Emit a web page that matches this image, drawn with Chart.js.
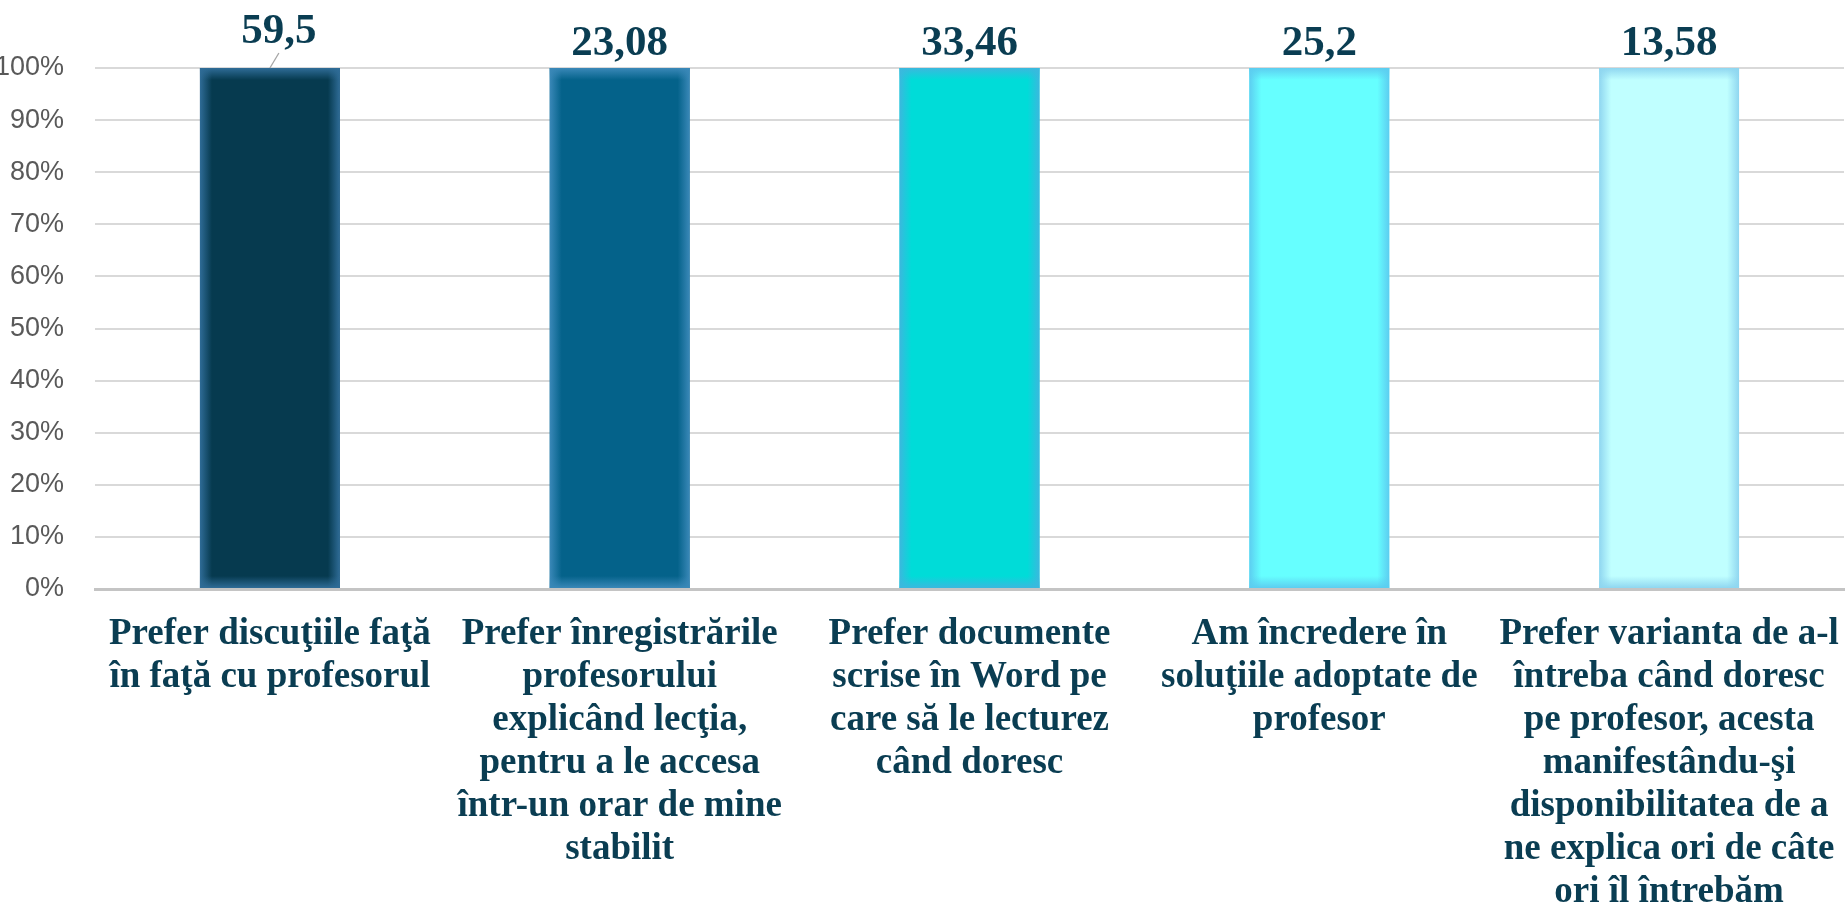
<!DOCTYPE html>
<html>
<head>
<meta charset="utf-8">
<style>
  html, body { margin: 0; padding: 0; background: #ffffff; }
  #wrap { width: 1847px; height: 905px; position: relative; }
</style>
<script src="https://cdn.jsdelivr.net/npm/chart.js@4.4.1/dist/chart.umd.min.js"></script>
</head>
<body>
<div id="wrap"><canvas id="c" width="1847" height="905"></canvas></div>
<script>
// ---- data ----
const categories = [
  ["Prefer discuţiile faţă", "în faţă cu profesorul"],
  ["Prefer înregistrările", "profesorului", "explicând lecţia,", "pentru a le accesa", "într-un orar de mine", "stabilit"],
  ["Prefer documente", "scrise în Word pe", "care să le lecturez", "când doresc"],
  ["Am încredere în", "soluţiile adoptate de", "profesor"],
  ["Prefer varianta de a-l", "întreba când doresc", "pe profesor, acesta", "manifestându-şi", "disponibilitatea de a", "ne explica ori de câte", "ori îl întrebăm"]
];
const values = [59.5, 23.08, 33.46, 25.2, 13.58];
const valueLabels = ["59,5", "23,08", "33,46", "25,2", "13,58"];
const yTicks = [0, 10, 20, 30, 40, 50, 60, 70, 80, 90, 100];

// 100% stacked: each category holds a single series, so its share is value / category total
const categoryTotals = values.map(v => v);
const shares = values.map((v, i) => v / categoryTotals[i] * 100);

// ---- styles ----
const barFill = ["#063a4f", "#04628a", "#00dcd8", "#66ffff", "#c0ffff"];
const barEdge = ["#2f6c97", "#3a88b8", "#3bb8de", "#5ccdf0", "#8fd6f0"];
const textDark = "#0a3d52";
const labelNudge = [{dx: 9, dy: -12, leader: true}, {dx: 0, dy: 0}, {dx: 0, dy: 0}, {dx: 0, dy: 0}, {dx: 0, dy: 0}];

const glowPlugin = {
  id: 'glow',
  afterDatasetsDraw(chart) {
    const ctx = chart.ctx;
    const meta = chart.getDatasetMeta(0);
    meta.data.forEach((bar, i) => {
      const p = bar.getProps(['x', 'y', 'base', 'width'], true);
      const l = p.x - p.width / 2, r = p.x + p.width / 2;
      const t = Math.min(p.y, p.base), b = Math.max(p.y, p.base);
      const g = 12;
      const edge = barEdge[i];
      ctx.save();
      const mk = (x0, y0, x1, y1) => {
        const gr = ctx.createLinearGradient(x0, y0, x1, y1);
        gr.addColorStop(0, edge);
        gr.addColorStop(1, edge + '00');
        return gr;
      };
      ctx.fillStyle = mk(l, 0, l + g, 0); ctx.fillRect(l, t, g, b - t);
      ctx.fillStyle = mk(r, 0, r - g, 0); ctx.fillRect(r - g, t, g, b - t);
      ctx.fillStyle = mk(0, t, 0, t + g); ctx.fillRect(l, t, r - l, g);
      ctx.fillStyle = mk(0, b, 0, b - g); ctx.fillRect(l, b - g, r - l, g);
      ctx.restore();
    });
  }
};

const valueLabelPlugin = {
  id: 'valueLabels',
  afterDraw(chart) {
    const ctx = chart.ctx;
    const meta = chart.getDatasetMeta(0);
    ctx.save();
    ctx.font = 'bold 43px "Liberation Serif", "Times New Roman", serif';
    ctx.fillStyle = textDark;
    ctx.textAlign = 'center';
    ctx.textBaseline = 'alphabetic';
    meta.data.forEach((bar, i) => {
      const n = labelNudge[i];
      const x = bar.x + n.dx;
      const y = bar.y - 13 + n.dy;
      ctx.fillText(valueLabels[i], x, y);
      if (n.leader) {
        ctx.strokeStyle = '#a6a6a6';
        ctx.lineWidth = 1.3;
        ctx.beginPath();
        ctx.moveTo(bar.x + 9, bar.y - 15);
        ctx.lineTo(bar.x, bar.y);
        ctx.stroke();
      }
    });
    ctx.restore();
  }
};

new Chart(document.getElementById('c'), {
  type: 'bar',
  data: {
    labels: categories,
    datasets: [{
      data: shares,
      backgroundColor: barFill,
      borderWidth: 0,
      categoryPercentage: 0.8,
      barPercentage: 0.5
    }]
  },
  options: {
    responsive: false,
    animation: false,
    devicePixelRatio: 1,
    layout: { padding: { top: 68, right: 3, left: 0, bottom: 0 } },
    plugins: { legend: { display: false }, tooltip: { enabled: false } },
    scales: {
      x: {
        stacked: true,
        grid: { display: false, drawTicks: false },
        border: { display: true, color: '#c4c4c4', width: 3 },
        ticks: {
          color: textDark,
          font: { family: '"Liberation Serif", "Times New Roman", serif', size: 37, weight: 'bold', lineHeight: 1.16 },
          padding: 24,
          maxRotation: 0,
          autoSkip: false
        },
        afterFit(scale) { scale.height = 316; scale.paddingLeft = 0; scale.paddingRight = 0; }
      },
      y: {
        stacked: true,
        min: 0,
        max: 100,
        afterBuildTicks(scale) { scale.ticks = yTicks.map(v => ({ value: v })); },
        grid: { color: '#d9d9d9', lineWidth: 2, drawTicks: false },
        border: { display: false },
        ticks: {
          color: '#595959',
          font: { family: '"Liberation Sans", Arial, sans-serif', size: 27 },
          padding: 31,
          callback: v => v + '%'
        },
        afterFit(scale) { scale.width = 95; }
      }
    }
  },
  plugins: [glowPlugin, valueLabelPlugin]
});
</script>
</body>
</html>
